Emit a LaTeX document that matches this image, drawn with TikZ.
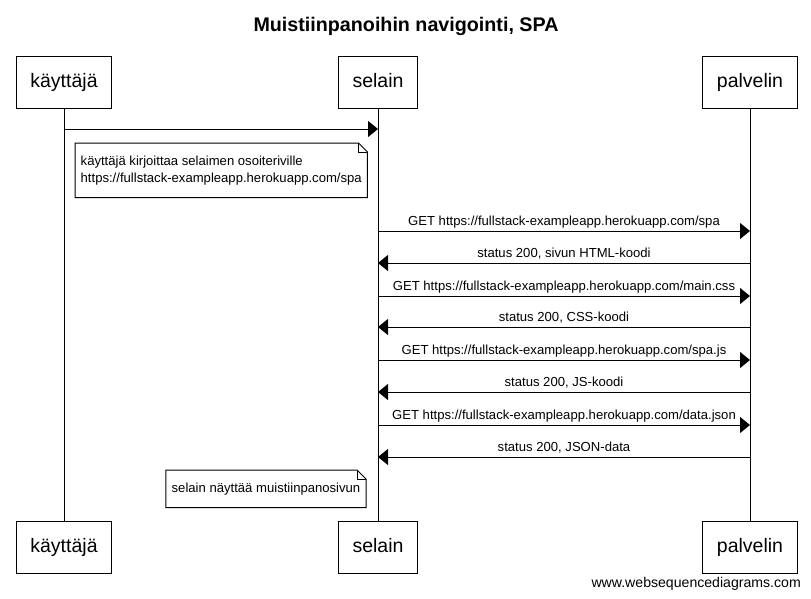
\documentclass[tikz,border=0pt]{standalone}
\usepackage{fontspec}
\setmainfont{Liberation Sans}
\usetikzlibrary{arrows.meta}

\tikzset{
  actor/.style={draw, line width=1pt, inner xsep=14pt, minimum height=52pt, text height=14pt, text depth=4pt, font=\fontsize{19.5}{22}\selectfont},
  lifeline/.style={line width=1pt},
  msg/.style={line width=1pt, -{Triangle[length=10pt,width=16pt]}},
  msgtext/.style={font=\fontsize{13.1}{15}\selectfont, anchor=base, yshift=6pt, inner sep=0pt},
  note/.style={font=\fontsize{13.1}{17}\selectfont, align=left, inner xsep=5.5pt, inner ysep=12.5pt},
  noteline/.style={line width=1pt}
}

\begin{document}
\begin{tikzpicture}[x=1pt, y=-1pt]
\useasboundingbox (0,0) rectangle (811,598);

% Title
\node[font=\bfseries\fontsize{19.7}{22}\selectfont, anchor=base] (title) at (406,31) {Muistiinpanoihin navigointi, SPA};

% Actors (top)
\node[actor] (kayttaja) at (64,82) {käyttäjä};
\node[actor] (selain) at (378,82) {selain};
\node[actor] (palvelin) at (750,82) {palvelin};

% Actors (bottom)
\node[actor] (kayttajaB) at (64,547) {käyttäjä};
\node[actor] (selainB) at (378,547) {selain};
\node[actor] (palvelinB) at (750,547) {palvelin};

% Lifelines
\draw[lifeline] (kayttaja) -- (kayttajaB);
\draw[lifeline] (selain) -- (selainB);
\draw[lifeline] (palvelin) -- (palvelinB);

% User types the address
\draw[msg] (kayttaja.south |- 0,129) -- (selain.south |- 0,129);

% Note: address bar
\node[note, anchor=north west] (note1) at (75,143) {käyttäjä kirjoittaa selaimen osoiteriville\\https://fullstack-exampleapp.herokuapp.com/spa};
\draw[noteline] (note1.south west) -- (note1.north west) -- ([xshift=-9pt]note1.north east) -- ([yshift=-9pt]note1.north east) -- (note1.south east) -- cycle;
\draw[noteline] ([xshift=-9pt]note1.north east) |- ([yshift=-9pt]note1.north east);

% Requests and responses
\draw[msg] (selain.south |- 0,231) -- node[msgtext] {GET https://fullstack-exampleapp.herokuapp.com/spa} (palvelin.south |- 0,231);
\draw[msg] (palvelin.south |- 0,263) -- node[msgtext] {status 200, sivun HTML-koodi} (selain.south |- 0,263);
\draw[msg] (selain.south |- 0,296) -- node[msgtext] {GET https://fullstack-exampleapp.herokuapp.com/main.css} (palvelin.south |- 0,296);
\draw[msg] (palvelin.south |- 0,327) -- node[msgtext] {status 200, CSS-koodi} (selain.south |- 0,327);
\draw[msg] (selain.south |- 0,360) -- node[msgtext] {GET https://fullstack-exampleapp.herokuapp.com/spa.js} (palvelin.south |- 0,360);
\draw[msg] (palvelin.south |- 0,392) -- node[msgtext] {status 200, JS-koodi} (selain.south |- 0,392);
\draw[msg] (selain.south |- 0,425) -- node[msgtext] {GET https://fullstack-exampleapp.herokuapp.com/data.json} (palvelin.south |- 0,425);
\draw[msg] (palvelin.south |- 0,457) -- node[msgtext] {status 200, JSON-data} (selain.south |- 0,457);

% Note: page shown
\node[note, anchor=north east] (note2) at (366,470) {selain näyttää muistiinpanosivun};
\draw[noteline] (note2.south west) -- (note2.north west) -- ([xshift=-9pt]note2.north east) -- ([yshift=-9pt]note2.north east) -- (note2.south east) -- cycle;
\draw[noteline] ([xshift=-9pt]note2.north east) |- ([yshift=-9pt]note2.north east);

% Footer
\node[font=\fontsize{14.1}{16}\selectfont, anchor=base east, inner sep=0pt] (footer) at (801,587) {www.websequencediagrams.com};

\end{tikzpicture}
\end{document}
